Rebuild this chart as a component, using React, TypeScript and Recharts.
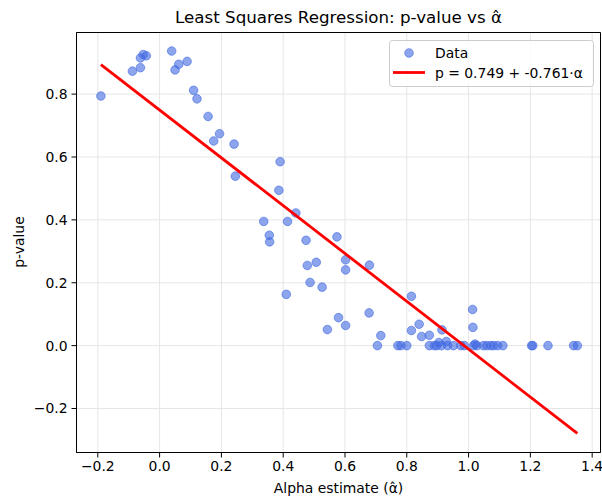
import React from "react";
import {
  ScatterChart,
  Scatter,
  XAxis,
  YAxis,
  CartesianGrid,
  ReferenceArea,
} from "recharts";

// alpha estimates (x) and matching p-values (y)
const ALPHA_HAT = [
  -0.19, -0.088, -0.062, -0.062, -0.053, -0.043, 0.039, 0.05, 0.062, 0.089,
  0.11, 0.121, 0.157, 0.175, 0.194, 0.241, 0.245, 0.39, 0.386, 0.441,
  0.337, 0.414, 0.355, 0.356, 0.474, 0.574, 0.602, 0.602, 0.679, 0.478,
  0.507, 0.487, 0.526, 0.41, 0.815, 0.579, 0.602, 0.543, 0.678, 0.716,
  0.705, 0.771, 0.781, 0.8, 0.815, 0.84, 0.848, 0.873, 0.914, 1.013,
  1.014, 0.873, 0.889, 0.897, 0.904, 0.912, 0.928, 0.932, 0.951, 0.975,
  0.986, 1.016, 1.021, 1.027, 1.048, 1.059, 1.072, 1.081, 1.094, 1.111,
  1.204, 1.208, 1.257, 1.34, 1.352,
];
const P_VALUE = [
  0.794, 0.873, 0.884, 0.915, 0.926, 0.922, 0.937, 0.877, 0.895, 0.904,
  0.812, 0.785, 0.729, 0.651, 0.674, 0.641, 0.539, 0.585, 0.494, 0.422,
  0.395, 0.395, 0.351, 0.33, 0.335, 0.346, 0.273, 0.241, 0.256, 0.255,
  0.265, 0.201, 0.186, 0.163, 0.157, 0.089, 0.064, 0.051, 0.104, 0.032,
  0.0, 0.0, 0.0, 0.0, 0.048, 0.068, 0.029, 0.033, 0.05, 0.115,
  0.058, 0.0, 0.0, 0.0, 0.01, 0.0, 0.013, 0.0, 0.0, 0.0,
  0.0, 0.0, 0.005, 0.0, 0.0, 0.0, 0.0, 0.0, 0.0, 0.0,
  0.0, 0.0, 0.0, 0.0, 0.0,
];

// fitted line endpoints (p = 0.749 + -0.761·α)
const FIT_ALPHA = [-0.19, 1.352];
const FIT_P = [0.894, -0.279];

const X_TICKS = [-0.2, 0, 0.2, 0.4, 0.6, 0.8, 1.0, 1.2, 1.4];
const Y_TICKS = [-0.2, 0, 0.2, 0.4, 0.6, 0.8];
const X_DOMAIN: [number, number] = [-0.269, 1.427];
const Y_DOMAIN: [number, number] = [-0.34, 0.996];

const FONT = "DejaVu Sans";
const BLUE = "#4169E1";

const fmt = (v: number) =>
  v < 0 ? "\u2212" + Math.abs(v).toFixed(1) : v.toFixed(1);

const Dot = (props: any) => (
  <circle
    cx={props.cx}
    cy={props.cy}
    r={4.3}
    fill={BLUE}
    fillOpacity={0.6}
    stroke={BLUE}
    strokeOpacity={0.6}
    strokeWidth={1}
  />
);

const App = () => {
  const points = ALPHA_HAT.map((a, i) => ({ x: a, y: P_VALUE[i] }));
  const fit = FIT_ALPHA.map((a, i) => ({ x: a, y: FIT_P[i] }));

  const tickStyle = { fontSize: 13.9, fill: "#000", fontFamily: FONT };

  return (
    <div
      style={{
        position: "fixed",
        left: 0,
        top: 0,
        width: 602,
        height: 500,
        overflow: "hidden",
        background: "#fff",
        fontFamily: FONT,
      }}
    >
      <ScatterChart
        width={602}
        height={500}
        margin={{ top: 32.5, right: 1.5, bottom: 0, left: 0 }}
      >
        <CartesianGrid stroke="#e6e6e6" strokeWidth={1} />
        <XAxis
          type="number"
          dataKey="x"
          domain={X_DOMAIN}
          ticks={X_TICKS}
          allowDataOverflow
          height={47.5}
          tickFormatter={fmt}
          tick={tickStyle}
          tickSize={5}
          tickMargin={4}
          axisLine={{ stroke: "#000", strokeWidth: 1 }}
          tickLine={{ stroke: "#000", strokeWidth: 1 }}
        />
        <YAxis
          type="number"
          dataKey="y"
          domain={Y_DOMAIN}
          ticks={Y_TICKS}
          allowDataOverflow
          width={76.5}
          tickFormatter={fmt}
          tick={tickStyle}
          tickSize={5}
          tickMargin={4}
          axisLine={{ stroke: "#000", strokeWidth: 1 }}
          tickLine={{ stroke: "#000", strokeWidth: 1 }}
        />
        <ReferenceArea
          x1={X_DOMAIN[0]}
          x2={X_DOMAIN[1]}
          y1={Y_DOMAIN[0]}
          y2={Y_DOMAIN[1]}
          fill="none"
          stroke="#000"
          strokeWidth={1}
        />
        <Scatter
          name="Data"
          data={points}
          shape={<Dot />}
          isAnimationActive={false}
        />
        <Scatter
          name="fit"
          data={fit}
          line={{ stroke: "#ff0000", strokeWidth: 2.8 }}
          shape={() => <g />}
          isAnimationActive={false}
        />
      </ScatterChart>

      <svg
        width={602}
        height={500}
        style={{ position: "absolute", left: 0, top: 0, pointerEvents: "none" }}
        fontFamily={FONT}
      >
        <text x={338.5} y={23} textAnchor="middle" fontSize={16.7} fill="#000">
          Least Squares Regression: p-value vs α̂
        </text>
        <text x={338.5} y={493} textAnchor="middle" fontSize={13.9} fill="#000">
          Alpha estimate (α̂)
        </text>
        <text
          x={24}
          y={242}
          textAnchor="middle"
          fontSize={13.9}
          fill="#000"
          transform="rotate(-90, 24, 242)"
        >
          p-value
        </text>

        <rect
          x={389.5}
          y={40.5}
          width={204}
          height={46}
          rx={3}
          fill="#fff"
          fillOpacity={0.8}
          stroke="#cccccc"
          strokeWidth={1}
        />
        <circle
          cx={409}
          cy={53}
          r={4.3}
          fill={BLUE}
          fillOpacity={0.6}
          stroke={BLUE}
          strokeOpacity={0.6}
        />
        <text x={435} y={58} fontSize={13.9} fill="#000">
          Data
        </text>
        <line x1={393} y1={72.5} x2={425} y2={72.5} stroke="#ff0000" strokeWidth={2.8} />
        <text x={435} y={77.5} fontSize={13.9} fill="#000">
          p = 0.749 + -0.761·α
        </text>
      </svg>
    </div>
  );
};

export default App;
